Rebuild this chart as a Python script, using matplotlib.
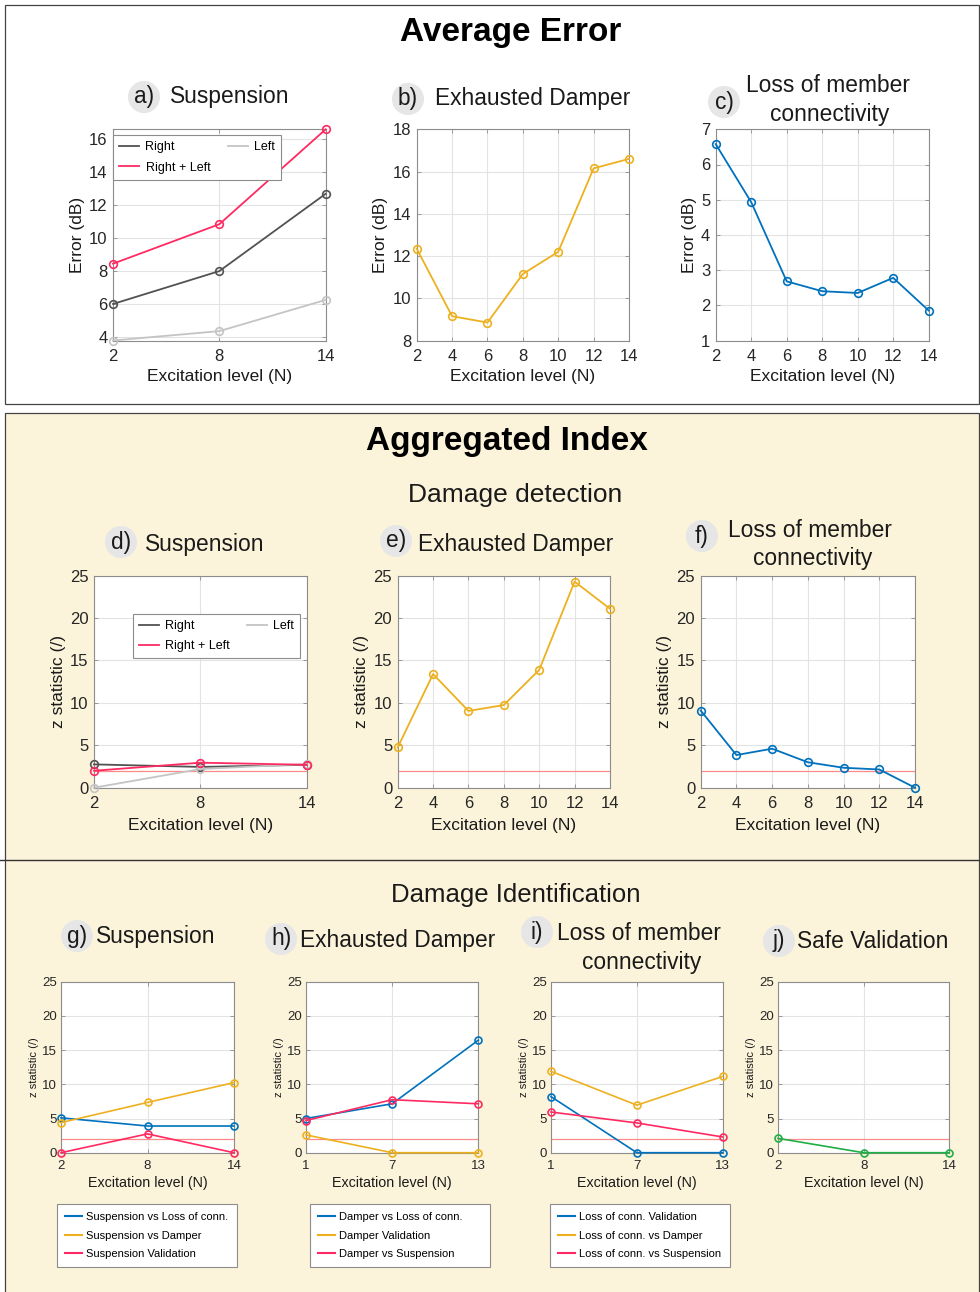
import matplotlib
matplotlib.use('Agg')
import matplotlib.pyplot as plt
from matplotlib.patches import Rectangle
from matplotlib.lines import Line2D

plt.rcParams['font.family'] = ['Liberation Sans', 'DejaVu Sans']

# ---------------- data ----------------
susp_x = [2, 8, 14]
full_x = [2, 4, 6, 8, 10, 12, 14]
damper_x = [1, 7, 13]

err_susp_right = [6.0, 8.0, 12.7]
err_susp_left = [3.78, 4.35, 6.25]
err_susp_both = [8.45, 10.85, 16.62]
err_damper = [12.35, 9.15, 8.85, 11.15, 12.2, 16.15, 16.6]
err_conn = [6.58, 4.93, 2.68, 2.40, 2.35, 2.78, 1.85]

z_susp_right = [2.75, 2.45, 2.7]
z_susp_left = [0.0, 2.2, 2.8]
z_susp_both = [2.0, 2.95, 2.7]
z_damper = [4.75, 13.4, 9.05, 9.75, 13.9, 24.3, 21.1]
z_conn = [9.1, 3.85, 4.6, 3.0, 2.35, 2.15, 0.0]

threshold = 1.96

id_susp_vs_conn = [5.1, 3.9, 3.9]
id_susp_vs_damper = [4.4, 7.35, 10.25]
id_susp_valid = [0.0, 2.75, 0.0]
id_damper_vs_conn = [5.0, 7.15, 16.45]
id_damper_valid = [2.6, 0.0, 0.0]
id_damper_vs_susp = [4.7, 7.75, 7.15]
id_conn_valid = [8.2, 0.0, 0.0]
id_conn_vs_damper = [11.9, 6.95, 11.15]
id_conn_vs_susp = [5.95, 4.35, 2.3]
safe_valid = [2.1, 0.0, 0.0]

labels_susp = ['Right', 'Right + Left', 'Left']
labels_g = ['Suspension vs Loss of conn.', 'Suspension vs Damper', 'Suspension Validation']
labels_h = ['Damper vs Loss of conn.', 'Damper Validation', 'Damper vs Suspension']
labels_i = ['Loss of conn. Validation', 'Loss of conn. vs Damper', 'Loss of conn. vs Suspension']

# ---------------- style ----------------
BLUE = '#0072BD'
ORANGE = '#EDB120'
PINK = '#FF2A62'
DARK = '#525252'
LIGHT = '#C4C4C4'
GREEN = '#1FAF45'
THR = '#FF8A8A'
YELLOW_BG = '#FCF4DA'
TXT = '#1a1a1a'

W, H = 980, 1292
fig = plt.figure(figsize=(W / 100, H / 100), dpi=100)


def fx(p):
    return p / W


def fy(p):
    return 1 - p / H


def add_ax(l, r, t, b):
    ax = fig.add_axes([fx(l), fy(b), fx(r) - fx(l), fy(t) - fy(b)])
    ax.set_facecolor('white')
    ax.set_zorder(2)
    return ax


def style(ax, xt, yt, xlim, ylim, tick_fs, xpad=6, ypad=4):
    ax.set_xticks(xt)
    ax.set_yticks(yt)
    ax.set_xlim(xlim)
    ax.set_ylim(ylim)
    ax.grid(True, color='#E3E3E3', lw=0.8)
    ax.set_axisbelow(True)
    for s in ax.spines.values():
        s.set_color('#8C8C8C')
        s.set_linewidth(0.8)
    ax.tick_params(direction='in', length=3, width=0.6, colors='#8C8C8C',
                   labelcolor='#262626', labelsize=tick_fs,
                   top=True, right=True)
    ax.tick_params(axis='x', pad=xpad)
    ax.tick_params(axis='y', pad=ypad)


def line(ax, x, y, c, lw=1.3, ms=5.5):
    ax.plot(x, y, '-o', color=c, lw=lw, ms=ms, mfc='none', mew=1.2,
            clip_on=False, zorder=3)


def thr_line(ax, xlim):
    ax.plot(xlim, [threshold, threshold], color=THR, lw=0.9, zorder=2)


# ---------------- backgrounds ----------------
fig.patches.append(Rectangle((fx(5), fy(404)), fx(979) - fx(5), fy(5) - fy(404),
                             transform=fig.transFigure, fill=False,
                             ec='#444444', lw=0.9, zorder=-2))
fig.patches.append(Rectangle((fx(5), fy(1295)), fx(979) - fx(5), fy(413) - fy(1295),
                             transform=fig.transFigure, fc=YELLOW_BG,
                             ec='#444444', lw=0.9, zorder=-2))
fig.lines.append(Line2D([0, 1], [fy(860), fy(860)], transform=fig.transFigure,
                        color='#333333', lw=1.0, zorder=-1))

# ---------------- headings ----------------
fig.text(fx(511), fy(33), 'Average Error', ha='center', va='center',
         fontsize=24, fontweight='bold', color='black')
fig.text(fx(507), fy(442), 'Aggregated Index', ha='center', va='center',
         fontsize=24, fontweight='bold', color='black')
fig.text(fx(515), fy(495), 'Damage detection', ha='center', va='center',
         fontsize=19, color=TXT)
fig.text(fx(516), fy(895), 'Damage Identification', ha='center', va='center',
         fontsize=18.5, color=TXT)

TFS = 16.4


def badge(x, y, s):
    fig.text(fx(x), fy(y), s, ha='center', va='center', fontsize=TFS, color=TXT,
             bbox=dict(boxstyle='circle,pad=0.2', fc='#E6E6E6', ec='none'))


def ptitle(x, y, s, ha='left'):
    fig.text(fx(x), fy(y), s, ha=ha, va='center', fontsize=TFS, color=TXT)


badge(144, 97, 'a)'); ptitle(170, 96, 'Suspension')
badge(408, 99, 'b)'); ptitle(435, 98, 'Exhausted Damper')
badge(724, 102, 'c)'); ptitle(828, 86, 'Loss of member', 'center'); ptitle(830, 114, 'connectivity', 'center')
badge(121, 542, 'd)'); ptitle(145, 544, 'Suspension')
badge(396, 541, 'e)'); ptitle(418, 544, 'Exhausted Damper')
badge(702, 536, 'f)'); ptitle(810, 530, 'Loss of member', 'center'); ptitle(813, 558, 'connectivity', 'center')
badge(77, 936, 'g)'); ptitle(96, 937, 'Suspension')
badge(281, 939, 'h)'); ptitle(300, 940, 'Exhausted Damper')
badge(537, 932, 'i)'); ptitle(639, 933, 'Loss of member', 'center'); ptitle(642, 962, 'connectivity', 'center')
badge(779, 941, 'j)'); ptitle(797, 942, 'Safe Validation')

XL = 'Excitation level (N)'
LEGKW = dict(ncol=2, loc='upper left', mode='expand', borderaxespad=0,
             fontsize=9, fancybox=False, edgecolor='#8C8C8C', framealpha=1,
             handlelength=1.6, handletextpad=0.5, labelspacing=0.65,
             borderpad=0.5, columnspacing=0.6)

# ---------------- top row ----------------
top, bot = 129.3, 340.5
ax = add_ax(113, 325.7, top, bot)
line(ax, susp_x, err_susp_right, DARK)
line(ax, susp_x, err_susp_left, LIGHT)
line(ax, susp_x, err_susp_both, PINK)
style(ax, susp_x, range(4, 17, 2), (2, 14), (3.78, 16.62), 12)
ax.set_xlabel(XL, fontsize=12.5, color=TXT, labelpad=4)
ax.set_ylabel('Error (dB)', fontsize=12.5, color=TXT, labelpad=3)
hs = [Line2D([], [], color=DARK, lw=1.3), Line2D([], [], color=PINK, lw=1.3),
      Line2D([], [], color=LIGHT, lw=1.3)]
leg = ax.legend(hs, labels_susp, bbox_to_anchor=(0, 0.972, 0.79, 0), **LEGKW)
leg.get_frame().set_linewidth(0.8)

ax = add_ax(416.7, 629, top, bot)
line(ax, full_x, err_damper, ORANGE)
style(ax, full_x, range(8, 19, 2), (2, 14), (8, 18), 12)
ax.set_xlabel(XL, fontsize=12.5, color=TXT, labelpad=4)
ax.set_ylabel('Error (dB)', fontsize=12.5, color=TXT, labelpad=3)

ax = add_ax(715.7, 928.7, top, bot)
line(ax, full_x, err_conn, BLUE)
style(ax, full_x, range(1, 8), (2, 14), (1, 7), 12)
ax.set_xlabel(XL, fontsize=12.5, color=TXT, labelpad=4)
ax.set_ylabel('Error (dB)', fontsize=12.5, color=TXT, labelpad=3)

# ---------------- middle row ----------------
top, bot = 575.7, 787.7
ax = add_ax(94, 306.7, top, bot)
thr_line(ax, (2, 14))
line(ax, susp_x, z_susp_right, DARK)
line(ax, susp_x, z_susp_left, LIGHT)
line(ax, susp_x, z_susp_both, PINK)
style(ax, susp_x, range(0, 26, 5), (2, 14), (0, 25), 12)
ax.set_xlabel(XL, fontsize=12.5, color=TXT, labelpad=5)
ax.set_ylabel('z statistic (/)', fontsize=12.5, color=TXT, labelpad=3)
leg = ax.legend(hs, labels_susp, bbox_to_anchor=(0.183, 0.82, 0.785, 0), **LEGKW)
leg.get_frame().set_linewidth(0.8)

ax = add_ax(397.7, 610, top, bot)
thr_line(ax, (2, 14))
line(ax, full_x, z_damper, ORANGE)
style(ax, full_x, range(0, 26, 5), (2, 14), (0, 25), 12)
ax.set_xlabel(XL, fontsize=12.5, color=TXT, labelpad=5)
ax.set_ylabel('z statistic (/)', fontsize=12.5, color=TXT, labelpad=3)

ax = add_ax(700.7, 915, top, bot)
thr_line(ax, (2, 14))
line(ax, full_x, z_conn, BLUE)
style(ax, full_x, range(0, 26, 5), (2, 14), (0, 25), 12)
ax.set_xlabel(XL, fontsize=12.5, color=TXT, labelpad=5)
ax.set_ylabel('z statistic (/)', fontsize=12.5, color=TXT, labelpad=3)

# ---------------- bottom row ----------------
top, bot = 981.7, 1152.7
panels = [
    (61, 234, susp_x, [(id_susp_vs_conn, BLUE), (id_susp_vs_damper, ORANGE), (id_susp_valid, PINK)], labels_g, 57),
    (306, 478.3, damper_x, [(id_damper_vs_conn, BLUE), (id_damper_valid, ORANGE), (id_damper_vs_susp, PINK)], labels_h, 310),
    (551, 722.7, damper_x, [(id_conn_valid, BLUE), (id_conn_vs_damper, ORANGE), (id_conn_vs_susp, PINK)], labels_i, 550),
    (778, 949.3, susp_x, [(safe_valid, GREEN)], None, None),
]
for l, r, xs, series, labs, legx in panels:
    ax = add_ax(l, r, top, bot)
    xlim = (xs[0], xs[-1])
    thr_line(ax, xlim)
    for ys, c in series:
        line(ax, xs, ys, c, lw=1.2, ms=5)
    style(ax, xs, range(0, 26, 5), xlim, (0, 25), 9.5, xpad=5, ypad=3)
    ax.set_xlabel(XL, fontsize=10.3, color=TXT, labelpad=3)
    ax.set_ylabel('z statistic (/)', fontsize=8, color=TXT, labelpad=2)
    if labs is not None:
        hh = [Line2D([], [], color=c, lw=1.5) for _, c in series]
        lg = fig.legend(hh, labs, loc='upper left',
                        bbox_to_anchor=(fx(legx), fy(1204), fx(legx + 180) - fx(legx), 0),
                        mode='expand', borderaxespad=0, fontsize=8,
                        fancybox=False, edgecolor='#8C8C8C', framealpha=1,
                        handlelength=1.5, handletextpad=0.4, labelspacing=0.75,
                        borderpad=0.75)
        lg.get_frame().set_linewidth(0.8)

fig.savefig('out.png', dpi=100)
